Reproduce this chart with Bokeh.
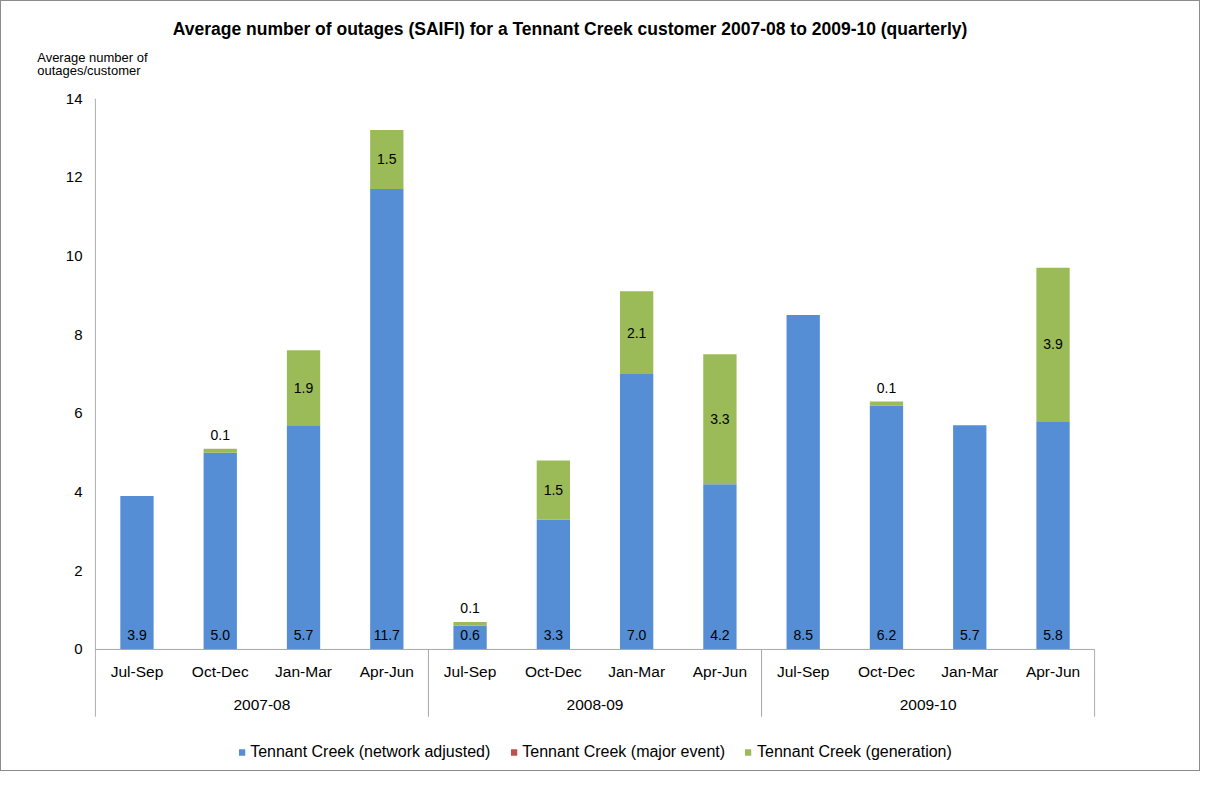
from bokeh.plotting import figure
from bokeh.models import Range1d, FixedTicker, Title, Legend, LegendItem, ColumnDataSource
from bokeh.core.properties import value
from bokeh.embed import file_html
from bokeh.resources import INLINE

# ---- data ----
years = ["2007-08", "2008-09", "2009-10"]
quarters = ["Jul-Sep", "Oct-Dec", "Jan-Mar", "Apr-Jun"]
network = [3.9, 5.0, 5.7, 11.7, 0.6, 3.3, 7.0, 4.2, 8.5, 6.2, 5.7, 5.8]
major_event = [0.0] * 12
generation = [0.0, 0.1, 1.9, 1.5, 0.1, 1.5, 2.1, 3.3, 0.0, 0.1, 0.0, 3.9]
series_names = ["Tennant Creek (network adjusted)", "Tennant Creek (major event)",
                "Tennant Creek (generation)"]
y_ticks = [0, 2, 4, 6, 8, 10, 12, 14]
title_text = "Average number of outages (SAIFI) for a Tennant Creek customer 2007-08 to 2009-10 (quarterly)"
ylabel_lines = ["Average number of", "outages/customer"]

FONT = "Liberation Sans"
BLUE, RED, GREEN = "#558ED5", "#C0504D", "#9BBB59"
AXIS = "#a6a6a6"

n = len(network)
xs = [i + 1 for i in range(n)]
YMIN = -3.127      # frame reaches the bottom of the canvas (room for category labels + legend)
YSEP = -1.71       # bottom of the category separators

src = ColumnDataSource(dict(x=xs, network=network, major=major_event, generation=generation))

p = figure(width=1200, height=771, output_backend="svg", toolbar_location=None,
           x_range=Range1d(0.49, 12.51), y_range=Range1d(YMIN, 14),
           x_axis_location=None, min_border_left=93, min_border_right=106,
           min_border_top=97, min_border_bottom=0)
p.styles = {"border": "1px solid #8c8c8c"}
p.outline_line_color = None
p.xgrid.visible = False
p.ygrid.visible = False

yax = p.yaxis[0]
yax.ticker = FixedTicker(ticks=y_ticks)
yax.minor_tick_line_color = None
yax.major_tick_line_color = None
yax.major_tick_out = 0
yax.major_tick_in = 0
yax.major_label_standoff = 12
yax.axis_line_color = None
yax.major_label_text_font = FONT
yax.major_label_text_font_size = "15px"
yax.major_label_text_color = "#000000"

rs = p.vbar_stack(["network", "major", "generation"], x="x", width=0.4, source=src,
                  fill_color=[BLUE, RED, GREEN], line_color=None)

# axis lines and category axis drawn inside the frame
p.segment(x0=[0.5], y0=[14], x1=[0.5], y1=[YSEP], line_color=AXIS, line_width=1)
p.segment(x0=[0.5], y0=[0], x1=[12.5], y1=[0], line_color=AXIS, line_width=1)
sep_x = [4.5 + 4 * i for i in range(len(years))]
p.segment(x0=sep_x, y0=[0] * len(sep_x), x1=sep_x, y1=[YSEP] * len(sep_x),
          line_color=AXIS, line_width=1)
q_labels = [q for _ in years for q in quarters]
p.text(x=xs, y=[-0.57] * n, text=q_labels, text_align="center", text_baseline="middle",
       text_font=value(FONT), text_font_size="15.5px", text_color="#000000")
year_x = [2.5 + 4 * i for i in range(len(years))]
p.text(x=year_x, y=[-1.41] * len(years), text=years, text_align="center",
       text_baseline="middle", text_font=value(FONT), text_font_size="15.5px",
       text_color="#000000")

# data labels
p.text(x=xs, y=[0.37] * n, text=["%.1f" % v for v in network], text_align="center",
       text_baseline="middle", text_font=value(FONT), text_font_size="14px",
       text_color="#000000")
gx, gy, gt = [], [], []
for x, nv, gv in zip(xs, network, generation):
    if gv > 0:
        gx.append(x)
        gy.append(nv + gv / 2 if gv >= 0.5 else nv + gv + 0.35)
        gt.append("%.1f" % gv)
p.text(x=gx, y=gy, text=gt, text_align="center", text_baseline="middle",
       text_font=value(FONT), text_font_size="14px", text_color="#000000")

# y-axis caption (two lines) and main title, stacked above the frame
p.add_layout(Title(text="\n".join(ylabel_lines), align="left", offset=-57.3, standoff=40,
                   text_font=FONT, text_font_size="13px", text_font_style="normal",
                   text_line_height=0.87, text_color="#000000"), "above")
p.add_layout(Title(text=title_text, align="left", offset=78.3, standoff=-20,
                   text_font=FONT, text_font_size="17.5px", text_font_style="bold",
                   text_color="#000000"), "above")

legend = Legend(items=[LegendItem(label=name, renderers=[r]) for name, r in zip(series_names, rs)],
                orientation="horizontal", location="bottom")
legend.label_text_font = FONT
legend.label_text_font_size = "16px"
legend.label_text_color = "#000000"
legend.glyph_width = 8
legend.glyph_height = 8
legend.label_standoff = 5
legend.spacing = 19
legend.padding = 0
legend.margin = 11
legend.border_line_color = None
legend.background_fill_color = None
p.add_layout(legend, "center")

open("out.html", "w").write(file_html(p, INLINE))
